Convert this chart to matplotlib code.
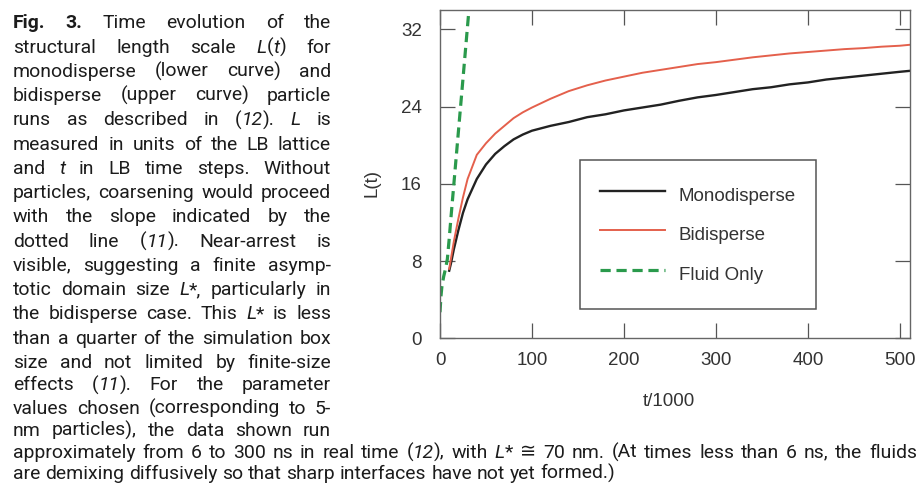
import matplotlib
matplotlib.use("Agg")
import matplotlib.pyplot as plt

# ---------------- data ----------------
t_runs = [10, 12, 15, 20, 25, 30, 40, 50, 60, 70, 80, 90, 100, 120, 140, 160,
          180, 200, 220, 240, 260, 280, 300, 320, 340, 360, 380, 400, 420, 440,
          460, 480, 500, 511]
L_mono = [7.0, 7.8, 9.2, 11.2, 13.0, 14.4, 16.5, 18.0, 19.1, 19.9, 20.6, 21.1,
          21.5, 22.0, 22.4, 22.9, 23.2, 23.6, 23.9, 24.2, 24.6, 24.95, 25.2,
          25.5, 25.8, 26.0, 26.3, 26.5, 26.8, 27.0, 27.2, 27.4, 27.6, 27.7]
L_bi = [7.2, 8.3, 10.0, 12.4, 14.6, 16.5, 19.0, 20.2, 21.2, 22.0, 22.8, 23.4,
        23.9, 24.8, 25.6, 26.2, 26.7, 27.1, 27.5, 27.8, 28.1, 28.4, 28.6,
        28.85, 29.1, 29.3, 29.5, 29.65, 29.8, 29.95, 30.05, 30.2, 30.3, 30.4]
t_fluid = [0, 1, 2, 4, 6, 8, 10, 12, 16, 20, 25, 33]
L_fluid = [2.7, 4.3, 5.3, 6.4, 7.2, 8.2, 10.3, 12.6, 17.0, 21.4, 26.9, 35.7]

series_labels = ["Monodisperse", "Bidisperse", "Fluid Only"]
x_ticks = [0, 100, 200, 300, 400, 500]
y_ticks = [0, 8, 16, 24, 32]

# caption: '#' toggles bold, '|' toggles italic
caption_lines = [
    "#Fig. 3.# Time evolution of the",
    "structural length scale |L|(|t|) for",
    "monodisperse (lower curve) and",
    "bidisperse (upper curve) particle",
    "runs as described in (|12|). |L| is",
    "measured in units of the LB lattice",
    "and |t| in LB time steps. Without",
    "particles, coarsening would proceed",
    "with the slope indicated by the",
    "dotted line (|11|). Near-arrest is",
    "visible, suggesting a finite asymp-",
    "totic domain size |L|*, particularly in",
    "the bidisperse case. This |L|* is less",
    "than a quarter of the simulation box",
    "size and not limited by finite-size",
    "effects (|11|). For the parameter",
    "values chosen (corresponding to 5-",
    "nm particles), the data shown run",
    "approximately from 6 to 300 ns in real time (|12|), with |L|* \u2245 70 nm. (At times less than 6 ns, the fluids",
    "are demixing diffusively so that sharp interfaces have not yet formed.)",
]

# ---------------- figure ----------------
W, H = 922, 484
fig = plt.figure(figsize=(W / 100, H / 100), dpi=100)
fig.patch.set_facecolor("white")

ax_left, ax_right, ax_top, ax_bot = 440, 910, 10, 338.3
ax = fig.add_axes([ax_left / W, 1 - ax_bot / H,
                   (ax_right - ax_left) / W, (ax_bot - ax_top) / H])

ax.plot(t_runs, L_mono, color="#222222", lw=1.7, label=series_labels[0])
ax.plot(t_runs, L_bi, color="#e4604c", lw=1.4, label=series_labels[1])
ax.plot(t_fluid, L_fluid, color="#2a9a4c", lw=2.3, dashes=(3.2, 1.8),
        label=series_labels[2])

ax.set_xlim(0, 511)
ax.set_ylim(0, 34)
ax.set_xticks(x_ticks)
ax.set_yticks(y_ticks)

tick_font = "Liberation Sans"
for lab in ax.get_xticklabels() + ax.get_yticklabels():
    lab.set_fontfamily(tick_font)
ax.tick_params(direction="in", length=10.8, width=0.9, color="#555555",
               top=True, right=True, labelsize=13.5, labelcolor="#333333")
ax.tick_params(axis="y", pad=13)
ax.tick_params(axis="x", pad=10)
for sp in ax.spines.values():
    sp.set_color("#666666")
    sp.set_linewidth(1.0)

ax.set_xlabel("t/1000", fontsize=13.5, family=tick_font, color="#333333")
ax.set_ylabel("L(t)", fontsize=13.5, family=tick_font, color="#333333")
ax.xaxis.label.set_verticalalignment("center")
ax.yaxis.label.set_verticalalignment("center")
ax.xaxis.set_label_coords((669 - ax_left) / (ax_right - ax_left),
                          (ax_bot - 402) / (ax_bot - ax_top))
ax.yaxis.set_label_coords((372 - ax_left) / (ax_right - ax_left),
                          (ax_bot - 183) / (ax_bot - ax_top))

leg = ax.legend(loc="upper left",
                bbox_to_anchor=((580 - ax_left) / (ax_right - ax_left),
                                (ax_bot - 160) / (ax_bot - ax_top)),
                borderaxespad=0, fancybox=False, framealpha=1,
                edgecolor="#555555", prop={"family": tick_font, "size": 13.5},
                handlelength=3.45, handleheight=2.05, handletextpad=0.75,
                labelspacing=0.53, borderpad=1.08)
leg.get_frame().set_linewidth(1.1)
for txt in leg.get_texts():
    txt.set_color("#333333")

# ---------------- caption text ----------------
renderer = fig.canvas.get_renderer()
cap_color = "#1c1c1c"
cap_font = "Roboto"


def parse(line):
    words, cur, buf = [], [], ""
    italic = bold = False
    for ch in line:
        if ch in "|#":
            if buf:
                cur.append((buf, italic, bold))
                buf = ""
            if ch == "|":
                italic = not italic
            else:
                bold = not bold
        elif ch == " ":
            if buf:
                cur.append((buf, italic, bold))
                buf = ""
            if cur:
                words.append(cur)
                cur = []
        else:
            buf += ch
    if buf:
        cur.append((buf, italic, bold))
    if cur:
        words.append(cur)
    return words


def piece_props(s, italic, bold, size):
    family = "DejaVu Sans" if "\u2245" in s else cap_font
    return dict(fontsize=size, family=family,
                style="italic" if italic else "normal",
                weight="bold" if bold else "normal")


def text_width(s, props):
    t = fig.text(0, 0, s, **props)
    w = t.get_window_extent(renderer).width
    t.remove()
    return w


def word_width(word, size):
    return sum(text_width(s, piece_props(s, i, b, size)) for s, i, b in word)


def space_width(size):
    p = piece_props("a", False, False, size)
    return text_width("a a", p) - text_width("aa", p)


parsed = [parse(l) for l in caption_lines]

# choose the size so the widest narrow-column line fits the column
col_x0, col_x1 = 13, 331
base = 13.0
sp0 = space_width(base)
nat = [sum(word_width(w, base) for w in ws) + sp0 * (len(ws) - 1)
       for ws in parsed[:18]]
cap_size = base * (col_x1 - col_x0 - 9) / max(nat)

baselines = ([28.3 + 24.25 * i for i in range(15)]
             + [390.5, 413.5, 435.5, 457.5, 479.0])
extents = [(col_x0, col_x1, True)] * 18 + [(13, 917, True), (13, None, False)]

sp = space_width(cap_size)
for words, yb, (x0, x1, just) in zip(parsed, baselines, extents):
    widths = [word_width(w, cap_size) for w in words]
    if just and len(words) > 1:
        gap = (x1 - x0 - sum(widths)) / (len(words) - 1)
    else:
        gap = sp
    x = x0
    for word, ww in zip(words, widths):
        xp = x
        for s, it, bd in word:
            props = piece_props(s, it, bd, cap_size)
            fig.text(xp / W, 1 - yb / H, s, ha="left", va="baseline",
                     color=cap_color, **props)
            xp += text_width(s, props)
        x += ww + gap

fig.savefig("out.png", dpi=100)
